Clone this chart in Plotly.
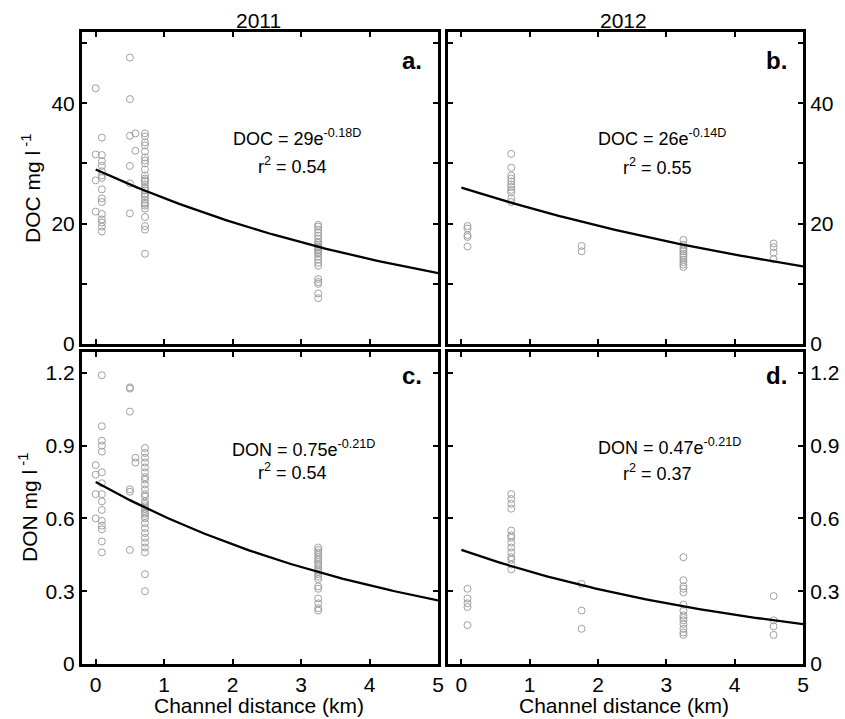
import numpy as np
import plotly.graph_objects as go

W, H = 845, 719

# ---------------- data ----------------
# Panel a: DOC 2011
doc11_d = ([0.0] * 4 + [0.09] * 15 + [0.5] * 6 + [0.58] * 2 + [0.72] * 29 + [3.25] * 24)
doc11_v = ([42.5, 31.5, 27.2, 22.0]
           + [34.3, 31.4, 30.4, 29.6, 28.7, 28.0, 27.6, 25.7, 24.2, 23.6, 21.6, 20.7, 20.2, 19.5, 18.7]
           + [47.6, 40.7, 34.6, 29.6, 26.7, 21.7]
           + [35.0, 32.1]
           + [35.0, 34.5, 33.5, 33.0, 32.0, 31.0, 30.5, 30.0, 29.0, 28.0, 27.5, 27.0, 26.5, 26.0,
              25.5, 25.0, 24.5, 24.0, 23.5, 23.0, 22.5, 21.1, 19.6, 19.0, 15.0, 27.2, 25.8, 24.8, 23.3]
           + [19.8, 19.5, 19.0, 18.5, 18.0, 17.5, 17.0, 16.8, 16.5, 16.2, 16.0, 15.7, 15.5, 15.2,
              15.0, 14.5, 14.0, 13.5, 13.0, 10.8, 10.3, 10.0, 8.4, 7.6])

# Panel b: DOC 2012
doc12_d = ([0.09] * 5 + [0.73] * 11 + [1.76] * 2 + [3.25] * 12 + [4.57] * 4)
doc12_v = ([19.6, 19.2, 18.1, 17.8, 16.2]
           + [31.6, 29.3, 28.0, 27.5, 27.0, 26.5, 26.1, 25.6, 25.2, 24.2, 23.6]
           + [16.3, 15.4]
           + [17.3, 16.5, 16.0, 15.7, 15.4, 15.0, 14.7, 14.4, 14.0, 13.6, 13.2, 12.8]
           + [16.7, 16.1, 15.2, 14.1])

# Panel c: DON 2011
don11_d = ([0.0] * 4 + [0.09] * 15 + [0.5] * 6 + [0.58] * 2 + [0.72] * 29 + [3.25] * 20)
don11_v = ([0.82, 0.78, 0.70, 0.60]
           + [1.19, 0.98, 0.92, 0.90, 0.875, 0.79, 0.745, 0.70, 0.67, 0.635, 0.59, 0.57, 0.555, 0.505, 0.46]
           + [1.14, 1.135, 1.04, 0.72, 0.71, 0.47]
           + [0.85, 0.83]
           + [0.89, 0.87, 0.85, 0.83, 0.81, 0.79, 0.77, 0.76, 0.74, 0.72, 0.70, 0.69, 0.67, 0.66,
              0.65, 0.64, 0.63, 0.62, 0.61, 0.60, 0.58, 0.56, 0.54, 0.52, 0.50, 0.48, 0.46, 0.37, 0.30]
           + [0.48, 0.47, 0.46, 0.45, 0.44, 0.43, 0.42, 0.41, 0.40, 0.39, 0.38, 0.37, 0.36, 0.35,
              0.32, 0.31, 0.27, 0.25, 0.23, 0.22])

# Panel d: DON 2012
don12_d = ([0.09] * 5 + [0.73] * 14 + [1.76] * 3 + [3.25] * 14 + [4.57] * 4)
don12_v = ([0.31, 0.27, 0.25, 0.235, 0.16]
           + [0.70, 0.68, 0.66, 0.64, 0.55, 0.53, 0.52, 0.50, 0.48, 0.46, 0.44, 0.43, 0.41, 0.39]
           + [0.33, 0.22, 0.145]
           + [0.44, 0.345, 0.32, 0.31, 0.295, 0.245, 0.22, 0.20, 0.19, 0.18, 0.165, 0.145, 0.13, 0.12]
           + [0.28, 0.18, 0.155, 0.12])

# Fitted models  y = A * exp(k * D)
fit_A = [29, 26, 0.75, 0.47]
fit_k = [-0.18, -0.14, -0.21, -0.21]
fit_r2 = ["0.54", "0.55", "0.54", "0.37"]
fit_names = ["DOC", "DOC", "DON", "DON"]
panel_letters = ["a.", "b.", "c.", "d."]
years = ["2011", "2012"]
x_ticks = [0, 1, 2, 3, 4, 5]

# ---------------- figure ----------------
FONT = "Arial, Liberation Sans, sans-serif"
FS = 21
fig = go.Figure()

xs = [doc11_d, doc12_d, don11_d, don12_d]
ys = [doc11_v, doc12_v, don11_v, don12_v]
dfit = np.linspace(0, 5, 101)

for i in range(4):
    ax = "" if i == 0 else str(i + 1)
    fig.add_trace(go.Scatter(
        x=xs[i], y=ys[i], mode="markers", xaxis="x" + ax, yaxis="y" + ax,
        marker=dict(symbol="circle-open", size=7, color="#a0a0a0", line=dict(width=1, color="#a0a0a0")),
        showlegend=False, hoverinfo="skip"))
    fig.add_trace(go.Scatter(
        x=dfit, y=fit_A[i] * np.exp(fit_k[i] * dfit), mode="lines", xaxis="x" + ax, yaxis="y" + ax,
        line=dict(color="black", width=2.3), showlegend=False, hoverinfo="skip"))

def px_x(p):
    return p / W

def px_y(p):
    return 1 - p / H

xl = [82 / W, 438 / W]
xr = [447.7 / W, 803 / W]
yt = [px_y(344), px_y(31.7)]
yb = [px_y(664), px_y(351.7)]

common_x = dict(range=[-0.2, 5], tickvals=x_ticks, ticks="inside", ticklen=5, tickwidth=2,
                tickcolor="black", showline=True, linewidth=3, linecolor="black", mirror="allticks",
                showgrid=False, zeroline=False, tickfont=dict(family=FONT, size=FS, color="black"),
                automargin=False)
common_y = dict(ticks="inside", ticklen=5, tickwidth=2, tickcolor="black", showline=True,
                linewidth=3, linecolor="black", mirror="allticks", showgrid=False, zeroline=False,
                tickfont=dict(family=FONT, size=FS, color="black"), automargin=False)

doc_y = dict(range=[0, 51.9], tickvals=[0, 20, 40],
             minor=dict(tickvals=[10, 30, 50], ticks="inside", ticklen=5, tickwidth=2, tickcolor="black"))
don_y = dict(range=[0, 1.287], tickvals=[0, 0.3, 0.6, 0.9, 1.2], ticktext=["0", "0.3", "0.6", "0.9", "1.2"])

fig.update_layout(
    width=W, height=H, margin=dict(l=0, r=0, t=0, b=0),
    paper_bgcolor="white", plot_bgcolor="white",
    xaxis=dict(domain=xl, anchor="y", showticklabels=False, **common_x),
    yaxis=dict(domain=yt, anchor="x", side="left", **doc_y, **common_y),
    xaxis2=dict(domain=xr, anchor="y2", showticklabels=False, **common_x),
    yaxis2=dict(domain=yt, anchor="x2", side="right", **doc_y, **common_y),
    xaxis3=dict(domain=xl, anchor="y3", showticklabels=True, **common_x),
    yaxis3=dict(domain=yb, anchor="x3", side="left", **don_y, **common_y),
    xaxis4=dict(domain=xr, anchor="y4", showticklabels=True, **common_x),
    yaxis4=dict(domain=yb, anchor="x4", side="right", **don_y, **common_y),
)

ann = []
# equations
eq_pos = [(2.94, 34.4, 2.88, 29.7), (2.94, 34.4, 2.87, 29.5), (3.03, 0.889, 2.88, 0.792), (3.04, 0.895, 2.87, 0.79)]
for i in range(4):
    ax = "" if i == 0 else str(i + 1)
    ex, ey, rx, ry = eq_pos[i]
    a_txt = ("%g" % fit_A[i])
    ann.append(dict(xref="x" + ax, yref="y" + ax, x=ex, y=ey, showarrow=False,
                    text=f"{fit_names[i]} = {a_txt}e<sup>{fit_k[i]:.2f}D</sup>",
                    font=dict(family=FONT, size=18, color="black")))
    ann.append(dict(xref="x" + ax, yref="y" + ax, x=rx, y=ry, showarrow=False,
                    text=f"r<sup>2</sup> = {fit_r2[i]}",
                    font=dict(family=FONT, size=18, color="black")))

# panel letters
let_pos = [(424, 60), (789, 60), (424, 375), (789, 375)]
for i in range(4):
    ann.append(dict(xref="paper", yref="paper", x=px_x(let_pos[i][0]), y=px_y(let_pos[i][1]),
                    xanchor="right", yanchor="middle", showarrow=False,
                    text=f"<b>{panel_letters[i]}</b>", font=dict(family=FONT, size=24, color="black")))

# years
for cx, yr in zip([258, 623], years):
    ann.append(dict(xref="paper", yref="paper", x=px_x(cx), y=px_y(20), showarrow=False,
                    xanchor="center", yanchor="middle", text=yr,
                    font=dict(family=FONT, size=FS, color="black")))

# axis titles
for cx in [259, 624]:
    ann.append(dict(xref="paper", yref="paper", x=px_x(cx), y=px_y(705), showarrow=False,
                    xanchor="center", yanchor="middle", text="Channel distance (km)",
                    font=dict(family=FONT, size=FS, color="black")))
ann.append(dict(xref="paper", yref="paper", x=px_x(31), y=px_y(188), showarrow=False, textangle=-90,
                xanchor="center", yanchor="middle", text="DOC mg l<sup> -1</sup>",
                font=dict(family=FONT, size=FS, color="black")))
ann.append(dict(xref="paper", yref="paper", x=px_x(28), y=px_y(508), showarrow=False, textangle=-90,
                xanchor="center", yanchor="middle", text="DON mg l<sup> -1</sup>",
                font=dict(family=FONT, size=FS, color="black")))

fig.update_layout(annotations=ann)
fig.write_html("out.html")
